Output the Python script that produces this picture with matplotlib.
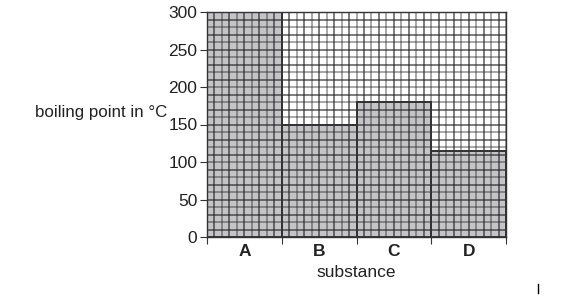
import numpy as np
import matplotlib.pyplot as plt

plt.rcParams['font.family'] = ['Liberation Sans', 'DejaVu Sans']

substances = ['A', 'B', 'C', 'D']
boiling_points = [300, 150, 180, 115]
y_ticks = [0, 50, 100, 150, 200, 250, 300]

fig = plt.figure(figsize=(5.64, 2.96), dpi=100)
ax = fig.add_axes([207 / 564, 59 / 296, 299 / 564, 225 / 296])

x = np.arange(len(substances))
ax.bar(x, boiling_points, width=1.0, align='edge', color='#c4c4c8',
       edgecolor='#333333', linewidth=1.2, zorder=1)

# fine graph-paper grid, every 10 units / 0.1 category
for i, gx in enumerate(np.arange(0, 4.01, 0.1)):
    ax.axvline(gx, color='#222222', alpha=0.75 if i % 2 else 0.5, lw=1.1, zorder=2)
for i, gy in enumerate(np.arange(0, 301, 10)):
    ax.axhline(gy, color='#222222', alpha=0.75 if i % 2 else 0.5, lw=1.1, zorder=2)

# redraw bar outlines on top of the grid
for xi, v in zip(x, boiling_points):
    ax.plot([xi, xi, xi + 1, xi + 1], [0, v, v, 0], color='#333333', lw=1.3, zorder=3)

ax.set_xlim(0, 4)
ax.set_ylim(0, 300)
ax.set_yticks(y_ticks)
ax.set_yticklabels([str(t) for t in y_ticks], fontsize=12.5, color='#222222')
ax.set_xticks([0, 1, 2, 3, 4])
ax.set_xticklabels([])
ax.set_xticks(x + 0.5, minor=True)
ax.set_xticklabels(substances, minor=True, fontsize=12.5, fontweight='bold', color='#222222')
ax.tick_params(axis='x', which='minor', length=0, pad=5)
ax.tick_params(axis='x', which='major', length=5, direction='out', color='#333333')
ax.tick_params(axis='y', length=5, direction='out', color='#333333', pad=2)

for s in ax.spines.values():
    s.set_color('#333333')
    s.set_linewidth(1.0)

ax.set_xlabel('substance', fontsize=12.5, labelpad=4.5, color='#222222')
fig.text(35 / 564, 1 - 112 / 296, 'boiling point in °C', fontsize=12.2,
         va='center', ha='left', color='#222222')

# small mark at bottom right
fig.add_artist(plt.Line2D([538 / 564, 538 / 564], [3 / 296, 12 / 296], color='black', lw=1))

fig.savefig('out.png', dpi=100)
